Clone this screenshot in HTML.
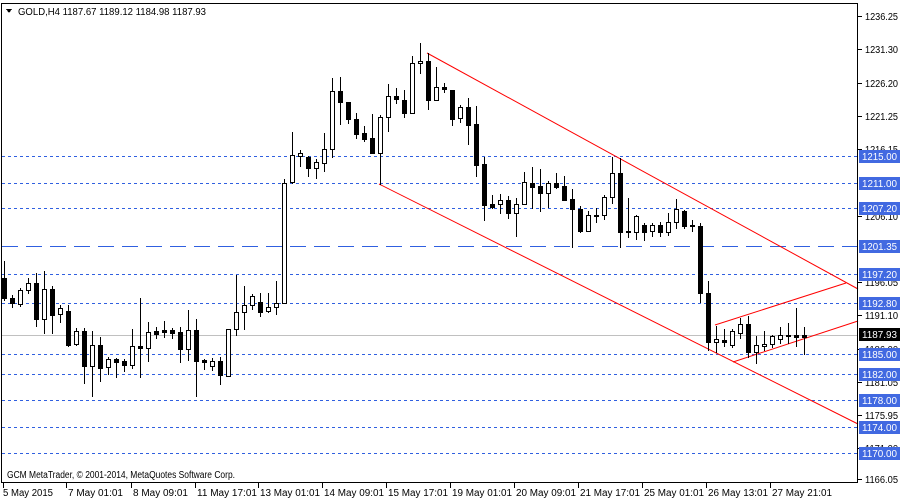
<!DOCTYPE html>
<html><head><meta charset="utf-8"><style>
html,body{margin:0;padding:0;background:#fff;}
svg{display:block;font-family:"Liberation Sans","DejaVu Sans",sans-serif;font-size:10px;}
</style></head><body>
<svg id="s" width="900" height="500" xmlns="http://www.w3.org/2000/svg" shape-rendering="crispEdges">
<rect x="0" y="0" width="900" height="500" fill="#fff"/>
<g id="grid"></g>
<g id="red" shape-rendering="auto" stroke="#ff0000" stroke-width="1" fill="none">
<line x1="427" y1="53" x2="858" y2="289"/>
<line x1="379" y1="184" x2="858" y2="424"/>
<line x1="715" y1="325" x2="846" y2="283"/>
<line x1="733" y1="362" x2="858" y2="321"/>
</g>
<g id="c"></g>
<line x1="1.5" y1="3" x2="1.5" y2="482" stroke="#000"/>
<line x1="1" y1="3.5" x2="858" y2="3.5" stroke="#000"/>
<line x1="857.5" y1="3" x2="857.5" y2="483" stroke="#000"/>
<line x1="1" y1="482.5" x2="858" y2="482.5" stroke="#000"/>
<g id="ax"></g>
<text x="18" y="15" fill="#000" textLength="188" lengthAdjust="spacingAndGlyphs">GOLD,H4  1187.67 1189.12 1184.98 1187.93</text>
<path d="M6 9 L12 9 L9 13 Z" fill="#000"/>
<text x="7" y="478" fill="#000" textLength="228" lengthAdjust="spacingAndGlyphs">GCM MetaTrader, © 2001-2014, MetaQuotes Software Corp.</text>
</svg>
<script>
var NS="http://www.w3.org/2000/svg";
function el(p,t,a,txt){var e=document.createElementNS(NS,t);for(var k in a)e.setAttribute(k,a[k]);if(txt!==undefined)e.textContent=txt;document.getElementById(p).appendChild(e);return e;}
function Y(p){return 16+(1236.25-p)*6.595;}
el("grid","line",{x1:2,x2:857,y1:335.5,y2:335.5,stroke:"#c0c0c0"});
var dl=[1215,1211,1207.2,1197.2,1192.8,1185,1182,1178,1174,1170];
dl.forEach(function(p){var y=Math.round(Y(p))+0.5;el("grid","line",{x1:2,x2:857,y1:y,y2:y,stroke:"#3060e0","stroke-dasharray":"3,3"});});
var y=Math.round(Y(1201.35))+0.5;el("grid","line",{x1:2,x2:857,y1:y,y2:y,stroke:"#3060e0","stroke-dasharray":"16,8"});
var C=[
[261,300,278,298,0],[295,307,298,303,0],[288,306,290,304,1],[278,293,283,290,1],[273,326,283,319,0],
[271,333,289,319,1],[286,333,289,315,0],[305,322,308,314,1],[305,346,311,345,0],[328,345,331,344,1],
[328,383,331,366,0],[331,396,345,366,1],[337,381,345,368,0],[357,374,359,367,1],[358,377,359,362,0],
[359,371,361,365,0],[329,368,346,365,1],[298,377,346,348,0],[322,361,332,348,1],[327,338,331,334,0],
[321,337,330,332,0],[328,338,330,333,0],[327,362,332,349,0],[310,360,330,349,1],[319,396,330,361,0],
[359,369,360,362,0],[358,370,361,366,1],[357,384,361,375,0],[329,376,329,376,1],[275,335,312,329,1],
[286,329,305,312,1],[294,309,296,305,1],[293,316,302,312,0],[293,312,307,311,1],[281,314,303,307,1],
[179,303,183,303,1],[132,183,155,182,1],[150,166,153,156,1],[156,176,157,168,0],[159,178,162,168,1],
[133,171,149,163,1],[78,157,91,149,1],[77,124,91,102,0],[102,123,102,119,0],[113,138,119,134,0],
[126,141,133,139,0],[114,153,138,153,0],[115,184,117,153,1],[84,131,96,117,1],[88,103,96,99,0],
[90,117,100,113,0],[56,113,63,113,1],[43,73,61,63,1],[53,109,61,100,0],[67,100,87,100,1],
[83,92,87,89,0],[90,125,90,119,0],[105,122,107,118,1],[98,144,107,125,0],[106,176,124,165,0],
[157,220,164,205,0],[195,208,204,207,0],[194,213,200,204,1],[196,218,200,213,0],[198,236,204,213,1],
[172,204,182,204,1],[167,208,183,187,0],[169,211,186,193,0],[181,207,183,193,1],[173,188,183,187,0],
[176,200,186,200,0],[189,247,199,209,0],[206,232,209,231,0],[211,231,215,231,1],[208,222,215,216,0],
[195,219,197,215,1],[157,203,173,197,1],[158,247,173,232,0],[198,237,231,232,0],[215,239,216,232,1],
[223,240,225,232,0],[223,236,225,231,1],[222,236,225,232,0],[213,235,222,232,1],[199,228,209,222,1],
[210,228,211,226,0],[220,231,225,226,0],[223,302,226,293,0],[281,350,293,342,0],[326,352,339,342,1],
[329,346,340,342,0],[329,347,331,345,1],[318,338,324,333,1],[316,357,324,352,0],[336,363,345,352,1],
[331,350,344,346,1],[335,347,336,344,1],[327,343,335,339,1],[323,343,335,336,0],[308,346,335,337,0],
[327,354,335,337,0]];
C.forEach(function(c,i){var x=4+8*i;
 el("c","line",{x1:x+0.5,x2:x+0.5,y1:c[0],y2:c[1]+1,stroke:"#000"});
 var h=Math.max(c[3]-c[2],1);
 if(c[4]) el("c","rect",{x:x-1.5,y:c[2]+0.5,width:4,height:h,fill:"#fff",stroke:"#000"});
 else el("c","rect",{x:x-2,y:c[2],width:5,height:h+1,fill:"#000"});
});
var ax=[["1236.25",16],["1231.30",49],["1226.20",83],["1221.25",116],["1216.15",149],["1206.10",216],["1196.05",282],["1191.10",315],["1186.00",349],["1181.05",382],["1175.95",415],["1171.00",448],["1166.05",479]];
ax.forEach(function(a){el("ax","line",{x1:858,x2:862,y1:a[1]+0.5,y2:a[1]+0.5,stroke:"#000"});el("ax","text",{x:865,y:a[1]+4,fill:"#000",textLength:33,lengthAdjust:"spacingAndGlyphs"},a[0]);});
var lb=[["1215.00",1215],["1211.00",1211],["1207.20",1207.2],["1201.35",1201.35],["1197.20",1197.2],["1192.80",1192.8],["1185.00",1185],["1182.00",1182],["1178.00",1178],["1174.00",1174],["1170.00",1170]];
lb.forEach(function(a){var y=Math.round(Y(a[1]));el("ax","rect",{x:859,y:y-6,width:41,height:13,fill:"#4169e1"});el("ax","text",{x:862,y:y+4,fill:"#fff",textLength:35,lengthAdjust:"spacingAndGlyphs"},a[0]);});
el("ax","rect",{x:859,y:328,width:41,height:13,fill:"#000"});el("ax","text",{x:862,y:338,fill:"#fff",textLength:35,lengthAdjust:"spacingAndGlyphs"},"1187.93");
var bx=[["5 May 2015",3,50],["7 May 01:01",66,55],["8 May 09:01",131,55],["11 May 17:01",195,60],["13 May 01:01",258,60],["14 May 09:01",322,60],["15 May 17:01",386,60],["19 May 01:01",450,60],["20 May 09:01",514,60],["21 May 17:01",578,60],["25 May 01:01",642,60],["26 May 13:01",706,60],["27 May 21:01",770,60]];
bx.forEach(function(b){el("ax","line",{x1:b[1]+0.5,x2:b[1]+0.5,y1:483,y2:488,stroke:"#000"});el("ax","text",{x:b[1]+(b[1]==3?0:2),y:496,fill:"#000",textLength:b[2],lengthAdjust:"spacingAndGlyphs"},b[0]);});
</script>
</body></html>
